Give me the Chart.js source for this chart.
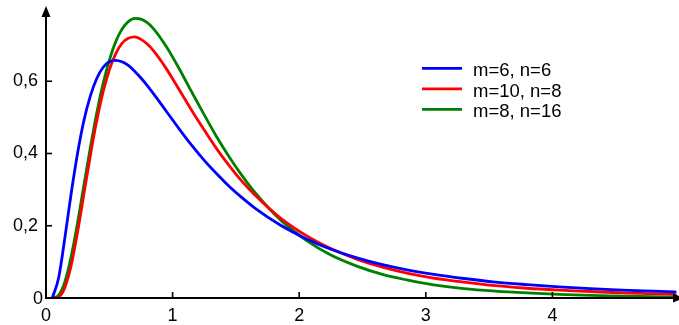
<!DOCTYPE html>
<html>
<head>
<meta charset="utf-8">
<script src="https://cdn.jsdelivr.net/npm/chart.js@4/dist/chart.umd.min.js"></script>
<style>
  html, body { margin: 0; padding: 0; background: #ffffff; }
  #wrap { width: 679px; height: 325px; position: relative; }
</style>
</head>
<body>
<div id="wrap"><canvas id="c" width="679" height="325"></canvas></div>
<script>
// F-distribution densities for three (m, n) pairs
const xValues = [0.05, 0.1, 0.15, 0.2, 0.25, 0.3, 0.35, 0.4, 0.45, 0.5, 0.55, 0.6, 0.65, 0.7, 0.75, 0.8, 0.85,
  0.95, 1.05, 1.15, 1.25, 1.35, 1.45, 1.55, 1.65, 1.85, 2.05, 2.25, 2.45, 2.65, 2.85, 3.05,
  3.3, 3.55, 3.8, 4.05, 4.3, 4.55, 4.8, 4.97];

const density_m6_n6 = [0, 0.056, 0.169, 0.292, 0.402, 0.492, 0.559, 0.607, 0.638, 0.654, 0.658, 0.654, 0.644, 0.628, 0.609, 0.588, 0.565,
  0.517, 0.469, 0.423, 0.381, 0.343, 0.308, 0.277, 0.249, 0.202, 0.165, 0.135, 0.112, 0.093, 0.078, 0.066,
  0.054, 0.044, 0.037, 0.031, 0.026, 0.022, 0.019, 0.017];

const density_m10_n8 = [0, 0.003, 0.030, 0.092, 0.184, 0.289, 0.394, 0.489, 0.569, 0.631, 0.676, 0.705, 0.719, 0.723, 0.716, 0.703, 0.684,
  0.635, 0.578, 0.520, 0.465, 0.412, 0.365, 0.322, 0.285, 0.222, 0.174, 0.137, 0.108, 0.086, 0.069, 0.056,
  0.044, 0.034, 0.027, 0.022, 0.018, 0.014, 0.012, 0.010];

const density_m8_n16 = [0, 0.008, 0.046, 0.117, 0.210, 0.314, 0.416, 0.511, 0.592, 0.658, 0.709, 0.744, 0.765, 0.774, 0.772, 0.762, 0.745,
  0.696, 0.636, 0.571, 0.507, 0.445, 0.389, 0.338, 0.292, 0.217, 0.161, 0.119, 0.089, 0.066, 0.050, 0.037,
  0.026, 0.019, 0.014, 0.010, 0.007, 0.005, 0.004, 0.003];

const seriesLabels = ['m=6, n=6', 'm=10, n=8', 'm=8, n=16'];
const seriesColors = ['#0000ff', '#ff0000', '#008000'];

const xTickValues = [0, 1, 2, 3, 4];
const xTickLabels = ['0', '1', '2', '3', '4'];
const yTickValues = [0, 0.2, 0.4, 0.6];
const yTickLabels = ['0', '0,2', '0,4', '0,6'];

const FONT = '"Liberation Sans", Arial, Helvetica, sans-serif';

function toPoints(ys) {
  return xValues.map((x, i) => ({ x: x, y: ys[i] }));
}

// Axis lines with arrow heads and inward tick marks
const axesPlugin = {
  id: 'arrowAxes',
  afterDatasetsDraw(chart) {
    const { ctx, chartArea, scales } = chart;
    const xs = scales.x, ys = scales.y;
    const x0 = xs.getPixelForValue(0);
    const y0 = ys.getPixelForValue(0);
    ctx.save();
    ctx.strokeStyle = '#000';
    ctx.fillStyle = '#000';
    ctx.lineWidth = 2;
    // y axis
    ctx.beginPath();
    ctx.moveTo(x0, y0 + 1);
    ctx.lineTo(x0, chartArea.top + 4);
    ctx.stroke();
    ctx.beginPath();
    ctx.moveTo(x0, chartArea.top - 3);
    ctx.lineTo(x0 - 4.5, chartArea.top + 8);
    ctx.lineTo(x0 + 4.5, chartArea.top + 8);
    ctx.closePath();
    ctx.fill();
    // x axis
    ctx.beginPath();
    ctx.moveTo(x0 - 1, y0);
    ctx.lineTo(chartArea.right, y0);
    ctx.stroke();
    ctx.beginPath();
    ctx.moveTo(chartArea.right + 5, y0);
    ctx.lineTo(chartArea.right - 6, y0 - 4.5);
    ctx.lineTo(chartArea.right - 6, y0 + 4.5);
    ctx.closePath();
    ctx.fill();
    // tick marks pointing into the plot
    ctx.lineWidth = 1.6;
    yTickValues.forEach(v => {
      if (v === 0) return;
      const py = ys.getPixelForValue(v);
      ctx.beginPath();
      ctx.moveTo(x0, py);
      ctx.lineTo(x0 + 6, py);
      ctx.stroke();
    });
    xTickValues.forEach(v => {
      if (v === 0) return;
      const px = xs.getPixelForValue(v);
      ctx.beginPath();
      ctx.moveTo(px, y0);
      ctx.lineTo(px, y0 - 6);
      ctx.stroke();
    });
    // origin label of the y axis
    ctx.font = '18px ' + FONT;
    ctx.textAlign = 'right';
    ctx.textBaseline = 'middle';
    ctx.fillText(yTickLabels[0], x0 - 3, y0 + 1.5);
    ctx.restore();
  }
};

// Legend: short coloured line followed by the series name
const legendPlugin = {
  id: 'lineLegend',
  afterDraw(chart) {
    const { ctx } = chart;
    ctx.save();
    ctx.font = '18.5px ' + FONT;
    ctx.textAlign = 'left';
    ctx.textBaseline = 'alphabetic';
    chart.data.datasets.forEach((ds, i) => {
      const yLine = 68.3 + i * 20.5;
      ctx.strokeStyle = ds.borderColor;
      ctx.lineWidth = 2.8;
      ctx.beginPath();
      ctx.moveTo(422, yLine);
      ctx.lineTo(462, yLine);
      ctx.stroke();
      ctx.fillStyle = '#000';
      ctx.fillText(ds.label, 473, yLine + 7.7);
    });
    ctx.restore();
  }
};

new Chart(document.getElementById('c'), {
  type: 'line',
  data: {
    datasets: [
      { label: seriesLabels[0], data: toPoints(density_m6_n6), borderColor: seriesColors[0] },
      { label: seriesLabels[1], data: toPoints(density_m10_n8), borderColor: seriesColors[1] },
      { label: seriesLabels[2], data: toPoints(density_m8_n16), borderColor: seriesColors[2] }
    ].map(d => Object.assign(d, {
      borderWidth: 2.8,
      pointRadius: 0,
      fill: false,
      cubicInterpolationMode: 'monotone',
      borderCapStyle: 'round'
    }))
  },
  options: {
    responsive: false,
    devicePixelRatio: 1,
    animation: false,
    layout: { padding: { top: 9, right: 0, left: 0, bottom: 0 } },
    plugins: { legend: { display: false }, tooltip: { enabled: false } },
    scales: {
      x: {
        type: 'linear',
        min: 0,
        max: 5,
        grid: { display: false, drawTicks: false },
        border: { display: false },
        afterBuildTicks: s => { s.ticks = xTickValues.map(v => ({ value: v })); },
        afterFit: s => { s.height = 27; s.paddingLeft = 0; s.paddingRight = 0; },
        ticks: {
          padding: 7,
          color: '#000',
          font: { size: 18, family: FONT },
          maxRotation: 0,
          callback: v => xTickLabels[xTickValues.indexOf(v)]
        }
      },
      y: {
        type: 'linear',
        min: 0,
        max: 0.8,
        grid: { display: false, drawTicks: false },
        border: { display: false },
        afterBuildTicks: s => { s.ticks = yTickValues.map(v => ({ value: v })); },
        afterFit: s => { s.width = 46; s.paddingTop = 0; s.paddingBottom = 0; },
        ticks: {
          padding: 8,
          color: '#000',
          font: { size: 18, family: FONT },
          callback: v => (v === 0 ? '' : yTickLabels[yTickValues.indexOf(v)])
        }
      }
    }
  },
  plugins: [axesPlugin, legendPlugin]
});
</script>
</body>
</html>
